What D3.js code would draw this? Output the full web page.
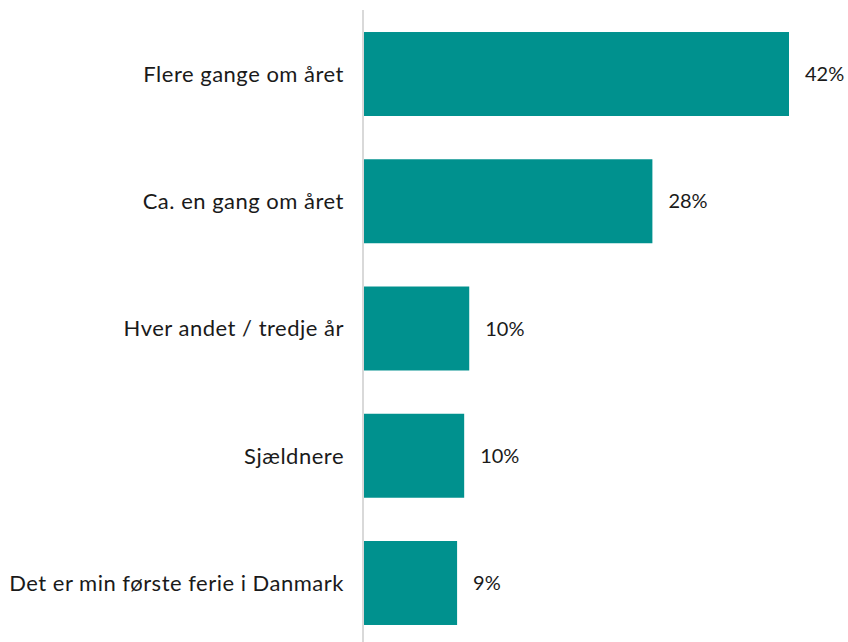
<!DOCTYPE html>
<html>
<head>
<meta charset="utf-8">
<script src="https://cdn.jsdelivr.net/npm/d3@7"></script>
<style>
  body { margin: 0; background: #fff; }
  text { font-family: "Lato", "DejaVu Sans", sans-serif; fill: #1a1a1a; }
</style>
</head>
<body>
<svg id="chart" width="848" height="642"></svg>
<script>
// data
var categories = ["Flere gange om året", "Ca. en gang om året", "Hver andet / tredje år", "Sjældnere", "Det er min første ferie i Danmark"];
var values = [42.0, 28.5, 10.4, 9.9, 9.2];
var valueLabels = ["42%", "28%", "10%", "10%", "9%"];

var svg = d3.select("#chart");
var left = 364;

var x = d3.scaleLinear().domain([0, 42]).range([left, 789]);
var y = d3.scaleBand().domain(categories).range([10, 647])
  .paddingInner(0.34).paddingOuter(0.173);

// bars
svg.selectAll("rect.bar")
  .data(values).enter()
  .append("rect")
  .attr("class", "bar")
  .attr("x", x(0))
  .attr("y", function(d, i) { return y(categories[i]); })
  .attr("width", function(d) { return x(d) - x(0); })
  .attr("height", y.bandwidth())
  .attr("fill", "#00918e");

// vertical axis line
svg.append("line")
  .attr("x1", left - 1).attr("x2", left - 1)
  .attr("y1", 10).attr("y2", 642)
  .attr("stroke", "#d9d9d9").attr("stroke-width", 2);

// category labels
svg.selectAll("text.cat")
  .data(categories).enter()
  .append("text")
  .attr("class", "cat")
  .attr("x", left - 20)
  .attr("y", function(d) { return y(d) + y.bandwidth() / 2; })
  .attr("dy", "0.36em")
  .attr("text-anchor", "end")
  .style("font-size", "22px")
  .style("letter-spacing", "0.5px")
  .text(function(d) { return d; });

// value labels
svg.selectAll("text.val")
  .data(values).enter()
  .append("text")
  .attr("class", "val")
  .attr("x", function(d) { return x(d) + 16; })
  .attr("y", function(d, i) { return y(categories[i]) + y.bandwidth() / 2; })
  .attr("dy", "0.36em")
  .style("font-size", "20px")
  .text(function(d, i) { return valueLabels[i]; });
</script>
</body>
</html>
